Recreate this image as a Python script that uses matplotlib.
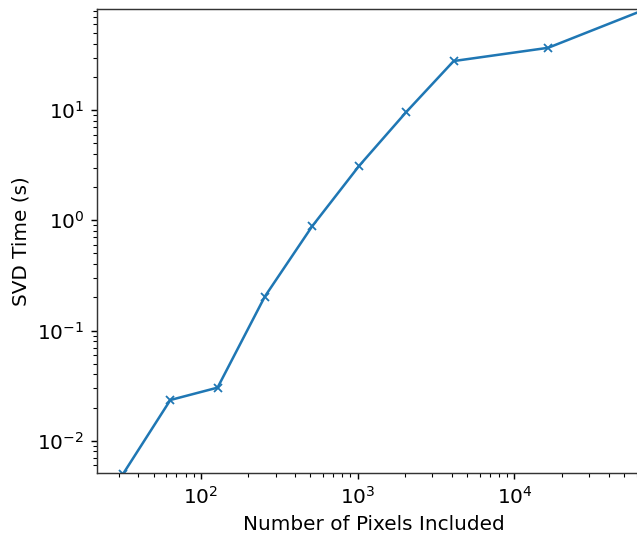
import numpy as np
import matplotlib
matplotlib.use("Agg")
import matplotlib.pyplot as plt

# Data
pixels = [32, 64, 128, 256, 512, 1024, 2048, 4096, 16384, 65536]
svd_time = [0.005, 0.0234, 0.0303, 0.203, 0.879, 3.13, 9.66, 27.9, 36.8, 80.3]

DPI = 130
W, H = 637, 539
plt.rcParams["font.size"] = 11.1

fig = plt.figure(figsize=(W / DPI, H / DPI), dpi=DPI)

# axes geometry in pixels (axes extends a bit past the right edge, as in the cropped reference)
left_px, right_px, top_px, bottom_px = 97, 650, 9, 473.3
ax = fig.add_axes([left_px / W, (H - bottom_px) / H,
                   (right_px - left_px) / W, (bottom_px - top_px) / H])

ax.plot(pixels, svd_time, marker="x", color="#1f77b4", linewidth=1.4,
        markersize=4.5, markeredgewidth=1.0)
ax.set_xscale("log")
ax.set_yscale("log")
ax.set_xlim(10 ** 1.3387, 10 ** 4.864)
ax.set_ylim(10 ** -2.296, 10 ** 1.918)
ax.set_xlabel("Number of Pixels Included")
ax.set_ylabel("SVD Time (s)")
for s in ax.spines.values():
    s.set_color("#333333")

fig.savefig("out.png", dpi=DPI)
